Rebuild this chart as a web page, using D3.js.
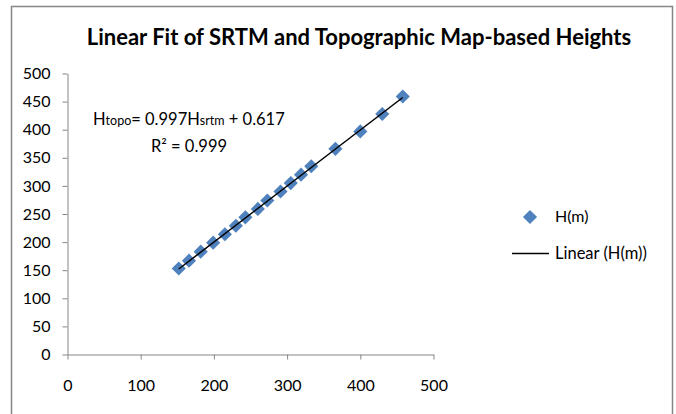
<!DOCTYPE html>
<html>
<head>
<meta charset="utf-8">
<script src="https://cdn.jsdelivr.net/npm/d3@7"></script>
<style>
  body { margin: 0; background: #fff; }
  svg { display: block; font-family: Lato, "Open Sans", sans-serif; }
</style>
</head>
<body>
<svg id="chart" width="676" height="414"></svg>
<script>
// SRTM height (x) vs topographic map height (y), metres
var srtm = [152, 166, 182, 199, 215, 230, 243, 260, 273, 291, 305, 319, 333, 366, 400, 430, 458];
var topo = [153, 167, 183, 199, 214, 229, 244, 259, 274, 290, 305, 320, 335, 366, 397, 428, 459];
var fitSlope = 0.997;
var fitIntercept = 0.617;
var xTicks = [0, 100, 200, 300, 400, 500];
var yTicks = [0, 50, 100, 150, 200, 250, 300, 350, 400, 450, 500];
var title = "Linear Fit of SRTM and Topographic Map-based Heights";
var legendLabels = ["H(m)", "Linear (H(m))"];

var svg = d3.select("#chart");
var axisColor = "#868686";
var blue = "#4f81bd";

var x = d3.scaleLinear().domain([0, 500]).range([67.5, 433.5]);
var y = d3.scaleLinear().domain([0, 500]).range([354.5, 73.5]);

// chart frame
svg.append("rect")
  .attr("x", 11.5).attr("y", 6.5)
  .attr("width", 661).attr("height", 420)
  .attr("fill", "none")
  .attr("stroke", axisColor)
  .attr("stroke-width", 1.5);

svg.append("text")
  .attr("x", 359).attr("y", 45)
  .attr("text-anchor", "middle")
  .attr("font-size", 22)
  .attr("font-weight", "bold")
  .attr("fill", "#000")
  .text(title);

var xAxis = svg.append("g")
  .attr("transform", "translate(0," + y(0) + ")")
  .call(d3.axisBottom(x).tickValues(xTicks).tickSizeInner(5).tickSizeOuter(0).tickPadding(20));

var yAxis = svg.append("g")
  .attr("transform", "translate(" + x(0) + ",0)")
  .call(d3.axisLeft(y).tickValues(yTicks).tickSizeInner(5).tickSizeOuter(0).tickPadding(12));

[xAxis, yAxis].forEach(function (g) {
  g.selectAll("path, line").attr("stroke", axisColor);
  g.selectAll("text")
    .attr("font-size", 16)
    .attr("font-family", "Lato, sans-serif")
    .attr("fill", "#000");
});

var xMin = d3.min(srtm), xMax = d3.max(srtm);
var diamond = d3.symbol().type(d3.symbolSquare).size(100);

svg.append("g").selectAll("path")
  .data(srtm)
  .enter().append("path")
  .attr("d", diamond)
  .attr("transform", function (d, i) {
    return "translate(" + x(d) + "," + y(topo[i]) + ") rotate(45)";
  })
  .attr("fill", blue);

// trend line (drawn over markers like Excel)
svg.append("line")
  .attr("x1", x(xMin)).attr("y1", y(fitSlope * xMin + fitIntercept))
  .attr("x2", x(xMax)).attr("y2", y(fitSlope * xMax + fitIntercept))
  .attr("stroke", "#000")
  .attr("stroke-width", 1.5);

// equation label
var eq = svg.append("text")
  .attr("x", 93).attr("y", 125)
  .attr("font-size", 16.5)
  .attr("fill", "#000");
eq.append("tspan").text("H");
eq.append("tspan").attr("font-size", 12.5).text("topo");
eq.append("tspan").text("= " + fitSlope + "H");
eq.append("tspan").attr("font-size", 12.5).text("srtm");
eq.append("tspan").text(" + " + fitIntercept);

svg.append("text")
  .attr("x", 151).attr("y", 152)
  .attr("font-size", 16.5)
  .attr("fill", "#000")
  .text("R\u00b2 = 0.999");

// legend
var lg = svg.append("g");
lg.append("path")
  .attr("d", diamond)
  .attr("transform", "translate(530,217) rotate(45)")
  .attr("fill", blue);
lg.append("text")
  .attr("x", 555).attr("y", 222)
  .attr("font-size", 16)
  .text(legendLabels[0]);
lg.append("line")
  .attr("x1", 512).attr("x2", 549)
  .attr("y1", 253.5).attr("y2", 253.5)
  .attr("stroke", "#000")
  .attr("stroke-width", 1.5);
lg.append("text")
  .attr("x", 555).attr("y", 259)
  .attr("font-size", 16.5)
  .text(legendLabels[1]);
</script>
</body>
</html>
